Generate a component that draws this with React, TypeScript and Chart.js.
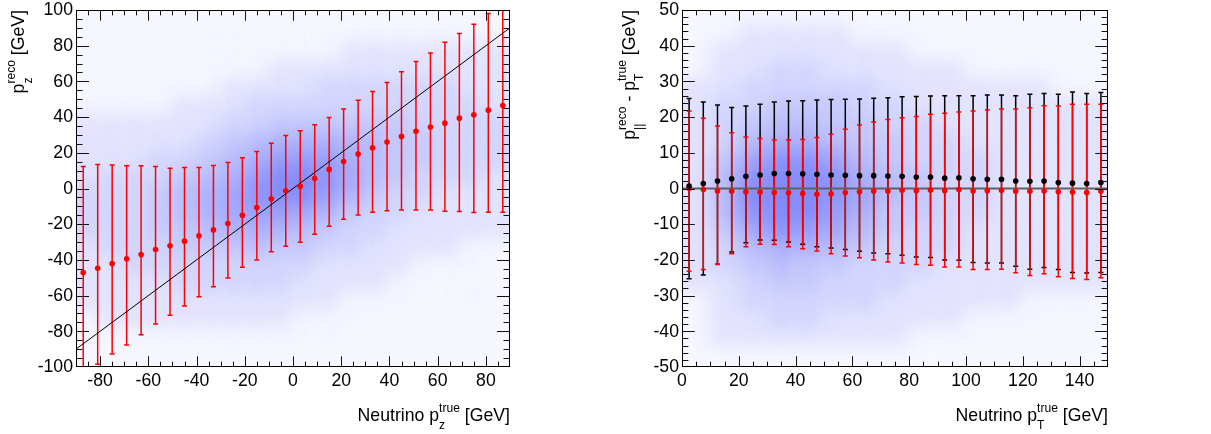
import React, { useEffect, useRef } from "react";
import { Chart, registerables } from "chart.js";
Chart.register(...registerables);

// ---------- Left panel data: p_z reco vs true ----------
const pzTrue = [-87, -81, -75, -69, -63, -57, -51, -45, -39, -33, -27, -21, -15, -9, -3, 3, 9, 15, 21, 27, 33, 39, 45, 51, 57, 63, 69, 75, 81, 87];
const pzMean = [-47.1, -44.7, -42.1, -39.4, -37, -34.2, -32.1, -29.5, -26.5, -23.2, -19.6, -15, -10.7, -5.8, -1.3, 1.3, 5.6, 10.7, 15.1, 19.3, 22.8, 26, 29.2, 32.1, 34.4, 36.6, 39.4, 41.3, 43.9, 46.5];
const pzHigh = [12.3, 13.5, 13.1, 12.7, 12.7, 12.3, 11.4, 11.8, 11.8, 12.9, 14.6, 17.2, 20.7, 25.4, 29.7, 32.3, 35.7, 39.8, 44.5, 49.5, 54.4, 59.4, 65.4, 71.2, 75.9, 81.9, 86.9, 92, 98.1, 106];
const pzLow = [-107, -98.5, -92.7, -87.7, -81.9, -75.9, -71, -65.8, -60.7, -55, -50.1, -44.1, -40, -35.5, -32.3, -30.1, -25.6, -21.1, -17.2, -14.8, -13.3, -12.5, -12, -12, -12.1, -12.7, -12.9, -13.5, -13.3, -13.3];
const diagX = [-90, 90];
const diagY = [-90, 90];

const leftXTicks = [-80, -60, -40, -20, 0, 20, 40, 60, 80];
const leftYTicks = [-100, -80, -60, -40, -20, 0, 20, 40, 60, 80, 100];

// density levels 0..9 (rows from top y=100 down to y=-100, 10 GeV cells; columns x=-90..90, 10 GeV cells)
const leftDensity = [
  [0, 0, 0, 0, 0, 0, 0, 0, 0, 0, 0, 0, 0, 0, 0, 0, 0, 0],
  [0, 0, 0, 0, 0, 0, 0, 0, 0, 0, 0, 0, 0, 0, 0, 0, 0, 0],
  [0, 0, 0, 0, 0, 0, 0, 0, 0, 0, 0, 1, 1, 1, 1, 1, 1, 1],
  [0, 0, 0, 0, 0, 0, 0, 0, 1, 1, 1, 1, 1, 1, 1, 1, 1, 1],
  [0, 0, 0, 0, 0, 0, 1, 1, 1, 1, 2, 2, 2, 2, 2, 2, 1, 1],
  [0, 0, 0, 0, 1, 1, 1, 2, 2, 2, 2, 2, 2, 2, 2, 2, 2, 1],
  [1, 1, 1, 1, 1, 1, 2, 2, 3, 3, 3, 3, 3, 3, 2, 2, 2, 2],
  [1, 1, 1, 1, 1, 2, 3, 4, 5, 5, 5, 5, 4, 3, 3, 2, 2, 2],
  [1, 1, 1, 2, 2, 3, 4, 5, 7, 7, 7, 5, 4, 3, 3, 2, 2, 2],
  [1, 2, 2, 2, 3, 4, 5, 7, 9, 9, 8, 6, 4, 3, 2, 2, 2, 1],
  [2, 2, 2, 3, 4, 5, 6, 8, 9, 9, 7, 5, 3, 2, 2, 1, 1, 1],
  [2, 2, 2, 3, 4, 5, 6, 7, 7, 6, 5, 3, 2, 2, 1, 1, 1, 1],
  [2, 2, 2, 3, 3, 4, 5, 5, 5, 4, 3, 2, 2, 1, 1, 1, 1, 1],
  [1, 2, 2, 2, 3, 3, 3, 4, 3, 3, 2, 2, 1, 1, 1, 1, 0, 0],
  [1, 1, 2, 2, 2, 2, 2, 2, 2, 2, 1, 1, 1, 1, 0, 0, 0, 0],
  [1, 1, 1, 1, 2, 2, 2, 2, 2, 1, 1, 1, 1, 0, 0, 0, 0, 0],
  [1, 1, 1, 1, 1, 1, 1, 1, 1, 1, 1, 0, 0, 0, 0, 0, 0, 0],
  [0, 1, 1, 1, 1, 1, 1, 1, 1, 0, 0, 0, 0, 0, 0, 0, 0, 0],
  [0, 0, 0, 0, 0, 0, 0, 0, 0, 0, 0, 0, 0, 0, 0, 0, 0, 0],
  [0, 0, 0, 0, 0, 0, 0, 0, 0, 0, 0, 0, 0, 0, 0, 0, 0, 0],
];

// ---------- Right panel data: p_par reco - pT true vs pT true ----------
const ptTrue = [2.5, 7.5, 12.5, 17.5, 22.5, 27.5, 32.5, 37.5, 42.5, 47.5, 52.5, 57.5, 62.5, 67.5, 72.5, 77.5, 82.5, 87.5, 92.5, 97.5, 102.5, 107.5, 112.5, 117.5, 122.5, 127.5, 132.5, 137.5, 142.5, 147.5];
const blackMean = [0.7, 1.4, 2.1, 2.7, 3.4, 3.8, 4.2, 4.2, 4.1, 4.0, 3.8, 3.7, 3.6, 3.6, 3.5, 3.4, 3.2, 3.2, 2.9, 3.0, 2.7, 2.6, 2.6, 2.1, 2.0, 2.1, 1.7, 1.5, 1.4, 1.7];
const blackHigh = [25.2, 24.2, 23.4, 22.7, 23.1, 23.6, 24.2, 24.5, 24.6, 24.8, 24.9, 25.0, 25.1, 25.3, 25.4, 25.7, 25.8, 25.9, 26.0, 26.0, 26.0, 26.2, 26.2, 26.0, 26.4, 26.6, 26.4, 27.0, 26.6, 26.9];
const blackLow = [-25.3, -24.2, -21.2, -17.8, -15.2, -14.4, -14.5, -15, -15.6, -16.3, -16.7, -17.1, -17.6, -18.1, -18.3, -18.7, -19.2, -19.3, -20, -20.1, -20.7, -20.9, -20.9, -21.8, -22.6, -22.1, -22.7, -23.5, -23.7, -23.5];
const redMean = [0, -0.3, -0.7, -0.8, -0.9, -1.0, -1.1, -1.2, -1.4, -1.6, -1.5, -1.1, -0.9, -0.7, -0.7, -0.5, -0.6, -0.4, -0.6, -0.3, -0.7, -0.6, -0.5, -0.8, -0.8, -0.7, -0.9, -1.0, -1.1, -0.8];
const redHigh = [21.7, 19.7, 17.5, 15.6, 14.4, 14.0, 13.6, 13.6, 13.7, 14.3, 15.2, 16.6, 17.8, 18.6, 19.3, 19.8, 20.2, 20.8, 21.1, 21.4, 21.7, 22.0, 22.3, 22.3, 22.6, 23.2, 23.1, 23.6, 23.6, 23.6];
const redLow = [-23.2, -22.7, -21.3, -18.3, -16.3, -15.6, -15.7, -16.3, -16.9, -17.5, -18.3, -18.9, -19.4, -20, -20.6, -20.9, -21.3, -21.5, -22, -22, -22.7, -22.7, -22.6, -23.6, -24.4, -23.9, -24.7, -25.2, -25.5, -25];
const zeroX = [0, 150];
const zeroY = [0, 0];

const rightXTicks = [0, 20, 40, 60, 80, 100, 120, 140];
const rightYTicks = [-50, -40, -30, -20, -10, 0, 10, 20, 30, 40, 50];

// density levels 0..9 (rows from top y=50 down to y=-50, 5 GeV cells; columns x=0..150, 10 GeV cells)
const rightDensity = [
  [0, 0, 0, 0, 0, 0, 0, 0, 0, 0, 0, 0, 0, 0, 0],
  [0, 0, 1, 1, 1, 1, 0, 0, 0, 0, 0, 0, 0, 0, 0],
  [0, 1, 1, 1, 1, 1, 1, 1, 0, 0, 0, 0, 0, 0, 0],
  [0, 1, 1, 2, 2, 1, 1, 1, 1, 1, 0, 0, 0, 0, 0],
  [1, 1, 2, 2, 2, 2, 2, 1, 1, 1, 1, 1, 1, 0, 0],
  [1, 2, 2, 3, 3, 3, 2, 2, 1, 1, 1, 1, 1, 1, 1],
  [1, 2, 3, 4, 4, 3, 3, 2, 2, 1, 1, 1, 1, 1, 1],
  [1, 2, 4, 5, 5, 4, 3, 3, 2, 2, 1, 1, 1, 1, 1],
  [1, 3, 6, 8, 8, 6, 4, 3, 2, 2, 2, 1, 1, 1, 1],
  [1, 4, 8, 9, 9, 8, 5, 4, 3, 2, 2, 1, 1, 1, 1],
  [1, 4, 9, 9, 9, 8, 6, 4, 3, 2, 2, 1, 1, 1, 1],
  [1, 4, 8, 9, 9, 7, 5, 3, 3, 2, 2, 1, 1, 1, 1],
  [1, 3, 6, 8, 7, 6, 4, 3, 2, 2, 1, 1, 1, 1, 1],
  [1, 2, 4, 5, 5, 4, 3, 2, 2, 2, 1, 1, 1, 1, 1],
  [1, 2, 3, 4, 3, 3, 2, 2, 2, 1, 1, 1, 1, 1, 1],
  [1, 1, 2, 3, 3, 2, 2, 2, 1, 1, 1, 1, 1, 1, 1],
  [0, 1, 2, 2, 2, 2, 2, 1, 1, 1, 1, 1, 0, 0, 0],
  [0, 1, 1, 2, 2, 1, 1, 1, 1, 1, 0, 0, 0, 0, 0],
  [0, 1, 1, 1, 1, 1, 1, 1, 0, 0, 0, 0, 0, 0, 0],
  [0, 0, 0, 0, 0, 0, 0, 0, 0, 0, 0, 0, 0, 0, 0],
];

// ---------- drawing helpers ----------
const FONT = '"Liberation Sans", Arial, Helvetica, sans-serif';
const MAIN = 19;
const SMALL = 13;
const SX = 0.93;

type Rich = { main?: string; sup?: string; sub?: string };

function levelColor(v: number) {
  const t = Math.pow(Math.max(0, Math.min(1, v / 9)), 0.8);
  const a = [247, 247, 255];
  const b = [95, 103, 248];
  const c = a.map((k, i) => Math.round(k + (b[i] - k) * t));
  return `rgb(${c[0]},${c[1]},${c[2]})`;
}

function drawRich(ctx: CanvasRenderingContext2D, parts: Rich[]) {
  const widths = parts.map((p) => {
    if (p.main !== undefined) {
      ctx.font = `${MAIN}px ${FONT}`;
      return ctx.measureText(p.main).width;
    }
    ctx.font = `${SMALL}px ${FONT}`;
    return Math.max(p.sup ? ctx.measureText(p.sup).width : 0, p.sub ? ctx.measureText(p.sub).width : 0);
  });
  const total = widths.reduce((s, w) => s + w, 0);
  ctx.save();
  ctx.scale(SX, 1);
  ctx.textAlign = "left";
  ctx.textBaseline = "alphabetic";
  ctx.fillStyle = "#000";
  let cx = -total;
  parts.forEach((p, i) => {
    if (p.main !== undefined) {
      ctx.font = `${MAIN}px ${FONT}`;
      ctx.fillText(p.main, cx, 0);
    } else {
      ctx.font = `${SMALL}px ${FONT}`;
      if (p.sup) ctx.fillText(p.sup, cx, -9);
      if (p.sub) ctx.fillText(p.sub, cx, 8);
    }
    cx += widths[i];
  });
  ctx.restore();
}

interface Bars { x: number[]; lo: number[]; hi: number[]; color: string }
interface PanelCfg {
  xMin: number; xMax: number; yMin: number; yMax: number;
  xTicks: number[]; xMinor: number; yTicks: number[]; yMinor: number;
  density: number[][];
  bars: Bars[];
  xTitle: Rich[]; yTitle: Rich[]; yTitleX: number;
}

function panelPlugin(p: PanelCfg) {
  return {
    id: "rootPanel",
    beforeDatasetsDraw(chart: any) {
      const { ctx, chartArea: a, scales } = chart;
      const xs = scales.x, ys = scales.y;
      ctx.save();
      ctx.beginPath();
      ctx.rect(a.left, a.top, a.right - a.left, a.bottom - a.top);
      ctx.clip();
      ctx.fillStyle = levelColor(0);
      ctx.fillRect(a.left, a.top, a.right - a.left, a.bottom - a.top);
      const rows = p.density.length, cols = p.density[0].length;
      const dx = (p.xMax - p.xMin) / cols, dy = (p.yMax - p.yMin) / rows;
      ctx.filter = "blur(10px)";
      for (let r = 0; r < rows; r++) {
        for (let c = 0; c < cols; c++) {
          let x0 = xs.getPixelForValue(p.xMin + c * dx);
          let x1 = xs.getPixelForValue(p.xMin + (c + 1) * dx);
          let y0 = ys.getPixelForValue(p.yMax - r * dy);
          let y1 = ys.getPixelForValue(p.yMax - (r + 1) * dy);
          if (c === 0) x0 -= 40;
          if (c === cols - 1) x1 += 40;
          if (r === 0) y0 -= 40;
          if (r === rows - 1) y1 += 40;
          ctx.fillStyle = levelColor(p.density[r][c]);
          ctx.fillRect(x0 - 0.5, y0 - 0.5, x1 - x0 + 1, y1 - y0 + 1);
        }
      }
      ctx.filter = "none";
      p.bars.forEach((b) => {
        ctx.strokeStyle = b.color;
        ctx.lineWidth = 1.5;
        b.x.forEach((xv, i) => {
          const px = xs.getPixelForValue(xv);
          const pl = ys.getPixelForValue(b.lo[i]);
          const ph = ys.getPixelForValue(b.hi[i]);
          ctx.beginPath();
          ctx.moveTo(px, pl);
          ctx.lineTo(px, ph);
          ctx.moveTo(px - 2.5, pl);
          ctx.lineTo(px + 2.5, pl);
          ctx.moveTo(px - 2.5, ph);
          ctx.lineTo(px + 2.5, ph);
          ctx.stroke();
        });
      });
      ctx.restore();
    },
    afterDraw(chart: any) {
      const { ctx, chartArea: a, scales } = chart;
      const xs = scales.x, ys = scales.y;
      ctx.save();
      ctx.strokeStyle = "#111";
      ctx.lineWidth = 1;
      const w = a.right - a.left, h = a.bottom - a.top;
      const xMaj = 0.03 * h, yMaj = 0.03 * w;
      ctx.beginPath();
      const nx = Math.round((p.xMax - p.xMin) / p.xMinor);
      for (let k = 1; k < nx; k++) {
        const v = p.xMin + k * p.xMinor;
        const major = p.xTicks.some((t) => Math.abs(t - v) < 1e-6);
        const len = major ? xMaj : xMaj / 2;
        const px = Math.round(xs.getPixelForValue(v)) + 0.5;
        ctx.moveTo(px, a.bottom);
        ctx.lineTo(px, a.bottom - len);
        ctx.moveTo(px, a.top);
        ctx.lineTo(px, a.top + len);
      }
      const ny = Math.round((p.yMax - p.yMin) / p.yMinor);
      for (let k = 1; k < ny; k++) {
        const v = p.yMin + k * p.yMinor;
        const major = p.yTicks.some((t) => Math.abs(t - v) < 1e-6);
        const len = major ? yMaj : yMaj / 2;
        const py = Math.round(ys.getPixelForValue(v)) + 0.5;
        ctx.moveTo(a.left, py);
        ctx.lineTo(a.left + len, py);
        ctx.moveTo(a.right, py);
        ctx.lineTo(a.right - len, py);
      }
      ctx.stroke();
      ctx.strokeStyle = "#000";
      ctx.strokeRect(Math.round(a.left) + 0.5, Math.round(a.top) + 0.5, Math.round(w) - 1, Math.round(h) - 1);

      ctx.fillStyle = "#000";
      ctx.font = `${MAIN}px ${FONT}`;
      ctx.textBaseline = "middle";
      p.xTicks.forEach((t) => {
        const px = xs.getPixelForValue(t);
        ctx.save();
        ctx.translate(px, a.bottom + 14);
        ctx.scale(SX, 1);
        ctx.textAlign = "center";
        ctx.fillText(String(t), 0, 0);
        ctx.restore();
      });
      p.yTicks.forEach((t) => {
        const py = ys.getPixelForValue(t);
        ctx.save();
        ctx.translate(a.left - 3, py);
        ctx.scale(SX, 1);
        ctx.textAlign = "right";
        ctx.fillText(String(t), 0, 0);
        ctx.restore();
      });
      ctx.save();
      ctx.translate(a.right, 421);
      drawRich(ctx, p.xTitle);
      ctx.restore();
      ctx.save();
      ctx.translate(p.yTitleX, a.top);
      ctx.rotate(-Math.PI / 2);
      drawRich(ctx, p.yTitle);
      ctx.restore();
      ctx.restore();
    },
  };
}

function makeChart(canvas: HTMLCanvasElement, p: PanelCfg, datasets: any[], pad: any) {
  return new Chart(canvas, {
    type: "scatter",
    data: { datasets },
    options: {
      animation: false,
      responsive: false,
      events: [],
      layout: { padding: pad },
      plugins: { legend: { display: false }, tooltip: { enabled: false } },
      scales: {
        x: { type: "linear", min: p.xMin, max: p.xMax, display: false },
        y: { type: "linear", min: p.yMin, max: p.yMax, display: false },
      },
    },
    plugins: [panelPlugin(p)],
  } as any);
}

const pts = (xs: number[], ys: number[]) => xs.map((x, i) => ({ x, y: ys[i] }));

export default function App() {
  const leftRef = useRef<HTMLCanvasElement>(null);
  const rightRef = useRef<HTMLCanvasElement>(null);

  useEffect(() => {
    const leftCfg: PanelCfg = {
      xMin: -90, xMax: 90, yMin: -100, yMax: 100,
      xTicks: leftXTicks, xMinor: 5, yTicks: leftYTicks, yMinor: 5,
      density: leftDensity,
      bars: [{ x: pzTrue, lo: pzLow, hi: pzHigh, color: "#ff0000" }],
      xTitle: [{ main: "Neutrino p" }, { sup: "true", sub: "z" }, { main: " [GeV]" }],
      yTitle: [{ main: "p" }, { sup: "reco", sub: "z" }, { main: " [GeV]" }],
      yTitleX: 24,
    };
    const rightCfg: PanelCfg = {
      xMin: 0, xMax: 150, yMin: -50, yMax: 50,
      xTicks: rightXTicks, xMinor: 5, yTicks: rightYTicks, yMinor: 2,
      density: rightDensity,
      bars: [
        { x: ptTrue, lo: blackLow, hi: blackHigh, color: "#000000" },
        { x: ptTrue, lo: redLow, hi: redHigh, color: "#ff0000" },
      ],
      xTitle: [{ main: "Neutrino p" }, { sup: "true", sub: "T" }, { main: " [GeV]" }],
      yTitle: [{ main: "p" }, { sup: "reco", sub: "||" }, { main: " - p" }, { sup: "true", sub: "T" }, { main: " [GeV]" }],
      yTitleX: 30,
    };
    const c1 = makeChart(
      leftRef.current!,
      leftCfg,
      [
        { data: pts(pzTrue, pzMean), pointRadius: 2.8, pointBackgroundColor: "#ff0000", pointBorderWidth: 0, showLine: false, order: 0 },
        { data: pts(diagX, diagY), showLine: true, borderColor: "#000000", borderWidth: 1, pointRadius: 0, order: 1 },
      ],
      { left: 76, right: 95, top: 10, bottom: 67 }
    );
    const c2 = makeChart(
      rightRef.current!,
      rightCfg,
      [
        { data: pts(ptTrue, blackMean), pointRadius: 2.8, pointBackgroundColor: "#000000", pointBorderWidth: 0, showLine: false, order: 0 },
        { data: pts(ptTrue, redMean), pointRadius: 2.8, pointBackgroundColor: "#ff0000", pointBorderWidth: 0, showLine: false, order: 1 },
        { data: pts(zeroX, zeroY), showLine: true, borderColor: "#606060", borderWidth: 2, pointRadius: 0, order: 2 },
      ],
      { left: 77, right: 103, top: 10, bottom: 67 }
    );
    return () => {
      c1.destroy();
      c2.destroy();
    };
  }, []);

  return (
    <div style={{ position: "absolute", left: 0, top: 0, width: 1211, height: 434, background: "#fff" }}>
      <canvas ref={leftRef} width={605} height={434} style={{ position: "absolute", left: 0, top: 0 }} />
      <canvas ref={rightRef} width={606} height={434} style={{ position: "absolute", left: 605, top: 0 }} />
    </div>
  );
}
